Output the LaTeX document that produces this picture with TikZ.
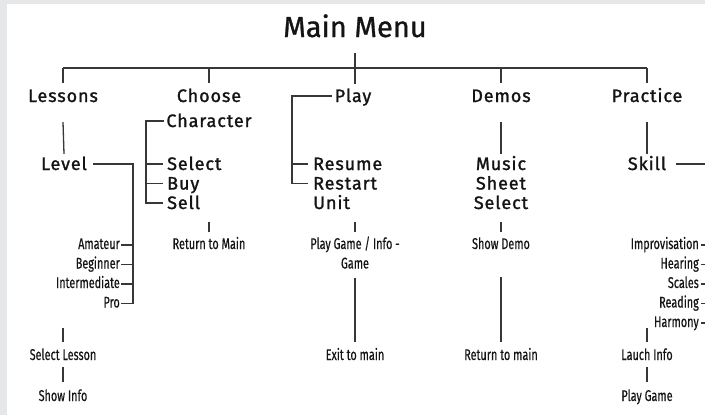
\documentclass[tikz,border=0pt]{standalone}
\usepackage{fontspec}
\setmainfont{Fira Sans}
\newfontfamily\titlefont{Fira Sans}[FakeBold=1]
\newfontfamily\headfont{Fira Sans}[FakeBold=1.3,LetterSpace=5]
\newfontfamily\itemfont{Fira Sans}[FakeStretch=0.7,FakeBold=0.4]
\usetikzlibrary{calc}
\definecolor{pagegray}{RGB}{230,231,233}
\definecolor{inkgray}{RGB}{55,55,55}
\definecolor{textblack}{RGB}{20,20,20}

\begin{document}
\begin{tikzpicture}[x=1pt,y=-1pt,
  every node/.style={inner sep=0pt,text=textblack},
  title/.style={font=\titlefont\fontsize{29}{31}\selectfont,anchor=base},
  menu/.style={font=\headfont\fontsize{18}{20}\selectfont,anchor=base,
    text height=12pt,text depth=0pt},
  entry/.style={font=\itemfont\fontsize{15.5}{17}\selectfont,anchor=base,
    text height=8pt,text depth=0pt},
  link/.style={draw=inkgray,line width=1.3pt}]
  \fill[pagegray] (0,0) rectangle (705,415);
  \fill[white] (7,4) rectangle (705,415);
  \clip (0,0) rectangle (705,415);

  % header and bus
  \node[title] (main) at (355,37) {Main Menu};
  \node[menu] (lessons) at (63,102) {Lessons};
  \node[menu] (choose) at (209,102) {Choose};
  \node[menu] (character) at (209,127) {Character};
  \node[menu] (play) at (353,102) {Play};
  \node[menu] (demos) at (501,102) {Demos};
  \node[menu] (practice) at (647,102) {Practice};
  \coordinate (busL) at (63,68);
  \coordinate (busR) at (647,68);
  \draw[link] (busL) -- (busR);
  \foreach \n in {lessons,choose,demos,practice}
    \draw[link] (\n.north |- busL) -- ++(0,15);
  \draw[link] ([yshift=-15pt]main.south) -- ++(0,31);

  % lessons
  \node[menu] (level) at (64,170) {Level};
  \draw[link] ([yshift=-20pt]lessons.south) -- ([yshift=4pt]level.north);
  \node[entry,anchor=base east] (amateur) at (120,249) {Amateur};
  \node[entry,anchor=base east] (beginner) at (120,268.5) {Beginner};
  \node[entry,anchor=base east] (intermediate) at (120,288) {Intermediate};
  \node[entry,anchor=base east] (pro) at (120,307.5) {Pro};
  \coordinate (levelbar) at (133,164);
  \draw[link] ([xshift=6pt]level.east) -- (levelbar) -- (levelbar |- pro.east);
  \foreach \n in {amateur,beginner,intermediate,pro}
    \draw[link] ([xshift=1pt]\n.east) -- (\n.east -| levelbar);
  \node[entry] (sellesson) at (63,360) {Select Lesson};
  \node[entry] (showinfo) at (63,401) {Show Info};
  \draw[link] ([yshift=10pt]sellesson.north) -- ++(0,-14);
  \draw[link] ([yshift=-7pt]sellesson.south) -- ([yshift=11pt]showinfo.north);

  % choose character
  \node[menu,anchor=base west] (select) at (167,170) {Select};
  \node[menu,anchor=base west] (buy) at (167,189.5) {Buy};
  \node[menu,anchor=base west] (sell) at (167,209) {Sell};
  \coordinate (charbar) at (146,121);
  \draw[link] ([xshift=-2pt]character.west) -- (charbar) |- ([xshift=-4pt]sell.west);
  \foreach \n in {select,buy}
    \draw[link] (charbar |- \n.west) -- ([xshift=-4pt]\n.west);
  \node[entry] (retmain) at (209,249) {Return to Main};
  \draw[link] ([yshift=9pt]retmain.north) -- ++(0,-10);

  % play
  \node[menu,anchor=base west] (resume) at (313,170) {Resume};
  \node[menu,anchor=base west] (restart) at (313,189.5) {Restart};
  \node[menu,anchor=base west] (unit) at (313,209) {Unit};
  \coordinate (playbar) at (292,96);
  \draw[link] ([xshift=-3pt]play.west) -- (playbar) |- ([xshift=-5pt]restart.west);
  \draw[link] (playbar |- resume.west) -- ([xshift=-5pt]resume.west);
  \node[entry] (playgame) at (355,249) {Play Game / Info -};
  \node[entry] (game) at (355,268.5) {Game};
  \draw[link] ([yshift=9pt]playgame.north) -- ++(0,-10);
  \node[entry] (exitmain) at (355,360) {Exit to main};
  \draw[link] ([yshift=-9pt]game.south) -- ([yshift=10pt]exitmain.north);

  % demos
  \node[menu] (music) at (501,170) {Music};
  \node[menu] (sheet) at (501,189.5) {Sheet};
  \node[menu] (sheetsel) at (501,209) {Select};
  \draw[link] ([yshift=-20pt]demos.south) -- ([yshift=4pt]music.north);
  \node[entry] (showdemo) at (501,249) {Show Demo};
  \draw[link] ([yshift=9pt]showdemo.north) -- ++(0,-10);
  \node[entry] (retmain2) at (501,360) {Return to main};
  \draw[link] ([yshift=-28pt]showdemo.south) -- ([yshift=10pt]retmain2.north);

  % practice
  \node[menu] (skill) at (647,170) {Skill};
  \draw[link] ([yshift=-20pt]practice.south) -- ([yshift=4pt]skill.north);
  \node[entry,anchor=base east] (improv) at (699,249) {Improvisation};
  \node[entry,anchor=base east] (hearing) at (699,268.5) {Hearing};
  \node[entry,anchor=base east] (scales) at (699,288) {Scales};
  \node[entry,anchor=base east] (reading) at (699,307.5) {Reading};
  \node[entry,anchor=base east] (harmony) at (699,327) {Harmony};
  \coordinate (skillbar) at (712,164);
  \draw[link] ([xshift=10pt]skill.east) -- (skillbar) -- (skillbar |- harmony.east);
  \foreach \n in {improv,hearing,scales,reading,harmony}
    \draw[link] ([xshift=2pt]\n.east) -- (\n.east -| skillbar);
  \node[entry] (lauch) at (647,360) {Lauch Info};
  \node[entry] (playgame2) at (647,401) {Play Game};
  \draw[link] ([yshift=10pt]lauch.north) -- ++(0,-14);
  \draw[link] ([yshift=-7pt]lauch.south) -- ([yshift=11pt]playgame2.north);
\end{tikzpicture}
\end{document}
